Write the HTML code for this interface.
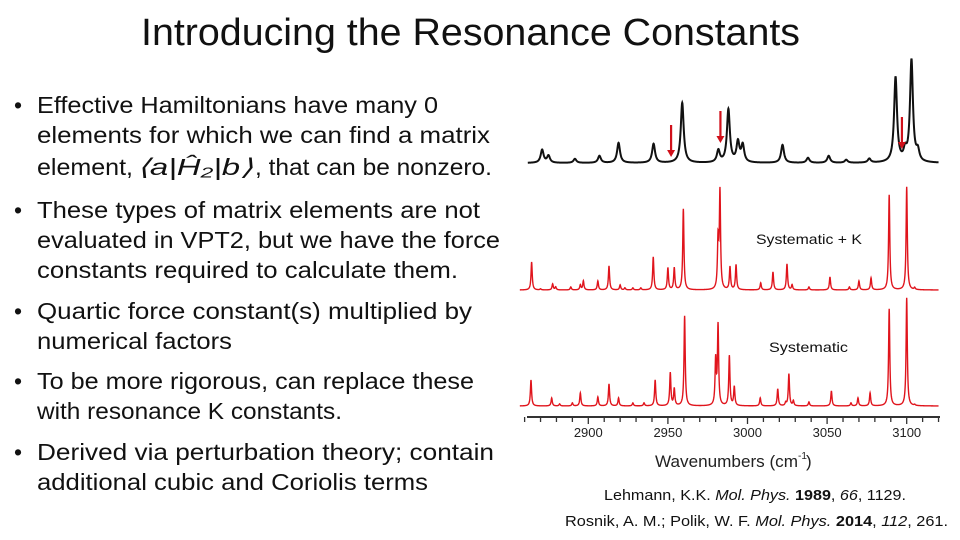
<!DOCTYPE html>
<html><head><meta charset="utf-8">
<style>
html,body{margin:0;padding:0;background:#fff;}
svg{display:block;}
text{font-family:"Liberation Sans",sans-serif;}
</style></head>
<body>
<svg id="s" width="960" height="540" viewBox="0 0 960 540">
<text x="141" y="45" font-size="38" fill="#111" textLength="659" lengthAdjust="spacingAndGlyphs">Introducing the Resonance Constants</text>
<g font-size="23" fill="#111">
<text x="14" y="113">•</text>
<text x="37" y="113" textLength="401" lengthAdjust="spacingAndGlyphs">Effective Hamiltonians have many 0</text>
<text x="37" y="143" textLength="453" lengthAdjust="spacingAndGlyphs">elements for which we can find a matrix</text>
<text x="37" y="175" textLength="96" lengthAdjust="spacingAndGlyphs">element,</text>
<text x="137" y="175" font-family="Liberation Serif" font-style="italic" textLength="116" lengthAdjust="spacingAndGlyphs">⟨a|Ĥ₂|b⟩</text>
<text x="255" y="175" textLength="237" lengthAdjust="spacingAndGlyphs">, that can be nonzero.</text>
<text x="14" y="218">•</text>
<text x="37" y="218" textLength="443" lengthAdjust="spacingAndGlyphs">These types of matrix elements are not</text>
<text x="37" y="248" textLength="463" lengthAdjust="spacingAndGlyphs">evaluated in VPT2, but we have the force</text>
<text x="37" y="278" textLength="421" lengthAdjust="spacingAndGlyphs">constants required to calculate them.</text>
<text x="14" y="319">•</text>
<text x="37" y="319" textLength="435" lengthAdjust="spacingAndGlyphs">Quartic force constant(s) multiplied by</text>
<text x="37" y="349" textLength="195" lengthAdjust="spacingAndGlyphs">numerical factors</text>
<text x="14" y="389">•</text>
<text x="37" y="389" textLength="437" lengthAdjust="spacingAndGlyphs">To be more rigorous, can replace these</text>
<text x="37" y="419" textLength="305" lengthAdjust="spacingAndGlyphs">with resonance K constants.</text>
<text x="14" y="460">•</text>
<text x="37" y="460" textLength="457" lengthAdjust="spacingAndGlyphs">Derived via perturbation theory; contain</text>
<text x="37" y="490" textLength="391" lengthAdjust="spacingAndGlyphs">additional cubic and Coriolis terms</text>
</g>
<g id="chart"></g>
<text x="756" y="244" font-size="14" fill="#111" textLength="106" lengthAdjust="spacingAndGlyphs">Systematic + K</text>
<text x="769" y="352" font-size="14" fill="#111" textLength="79" lengthAdjust="spacingAndGlyphs">Systematic</text>
<text x="655" y="467" font-size="17" fill="#222" textLength="143" lengthAdjust="spacingAndGlyphs">Wavenumbers (cm</text>
<text x="798" y="459" font-size="10" fill="#222">-1</text>
<text x="806" y="467" font-size="17" fill="#222">)</text>
<g font-size="15" fill="#111">
<text x="604" y="500" textLength="302" lengthAdjust="spacingAndGlyphs">Lehmann, K.K. <tspan font-style="italic">Mol. Phys.</tspan> <tspan font-weight="bold">1989</tspan>, <tspan font-style="italic">66</tspan>, 1129.</text>
<text x="565" y="526" textLength="383" lengthAdjust="spacingAndGlyphs">Rosnik, A. M.; Polik, W. F. <tspan font-style="italic">Mol. Phys.</tspan> <tspan font-weight="bold">2014</tspan>, <tspan font-style="italic">112</tspan>, 261.</text>
</g>
</svg>
<script>
const tickLabels=[2900,2950,3000,3050,3100];
const expPos=[2871,2875,2891.6,2907,2919,2941,2959,2981.7,2988,2994,2997,3022,3038,3051,3062,3076.5,3093,3099,3103,3107];
const expInt=[13,7,4,7,20,19,60,12,53,20,17,18,5,7,3,4,85,10,102,10];
const sysKPos=[2864.4,2870,2877.6,2879.5,2889,2895,2896.9,2906,2913,2920,2923,2928,2933,2940.8,2950,2954,2959.7,2981.5,2982.7,2989,2992.8,3008.3,3016,3024.8,3028,3038.6,3051.8,3064,3070,3077.6,3089,3100,3105];
const sysKInt=[28,1,6,3,3,5,9,9,24,5,2,2,2,33,22,22,81,48,97,23,25,7,18,26,5,3,13,3,9,12,95,103,2];
const sysPos=[2864,2877,2882,2890,2895,2906,2913,2919,2928,2935,2942,2951.5,2954,2960.5,2980,2981.5,2988.6,2991.7,3008,3019,3024,3026,3028.8,3038.6,3052.7,3065,3069.4,3077,3089,3100,3105];
const sysInt=[26,8,2,3,13,9,22,8,3,3,26,33,17,90,45,80,50,19,8,17,3,32,5,4,15,3,8,13,97,108,1];
const arrowPos=[2952,2983,3097];
const NS='http://www.w3.org/2000/svg';
const chart=document.getElementById('chart');
const x0=2900,px0=588.3,sc=1.592;
function xs(w){return px0+(w-x0)*sc;}
function spectrum(pos,ints,base,hw,wmin,wmax){
  let d='';
  for(let w=wmin;w<=wmax;w+=0.1){
    let y=0;
    for(let i=0;i<pos.length;i++){const u=(w-pos[i])/hw;y+=ints[i]/(1+u*u);}
    d+=(d?'L':'M')+xs(w).toFixed(2)+','+(base-y).toFixed(2);
  }
  return d;
}
function addPath(d,color,wid,name){
  const p=document.createElementNS(NS,'path');
  p.setAttribute('d',d);p.setAttribute('fill','none');p.setAttribute('stroke',color);p.setAttribute('stroke-width',wid);
  
  
  chart.appendChild(p);
}
addPath(spectrum(expPos,expInt,163,1.1,2862,3120),'#111','2','experimental-spectrum');
addPath(spectrum(sysKPos,sysKInt,290,0.45,2857,3120),'#e0141c','1.4','systematic-k-spectrum');
addPath(spectrum(sysPos,sysInt,406,0.45,2857,3120),'#e0141c','1.4','systematic-spectrum');
// axis
const ax=document.createElementNS(NS,'line');
ax.setAttribute('x1',527);ax.setAttribute('x2',940);ax.setAttribute('y1',417);ax.setAttribute('y2',417);
ax.setAttribute('stroke','#333');ax.setAttribute('stroke-width','2');


chart.appendChild(ax);
for(let w=2860;w<=3120;w+=10){
  const t=document.createElementNS(NS,'line');
  const major=(w%50===0);
  t.setAttribute('x1',xs(w));t.setAttribute('x2',xs(w));t.setAttribute('y1',417);t.setAttribute('y2',major?424:422);
  t.setAttribute('stroke','#333');t.setAttribute('stroke-width','1.3');
  
  
  chart.appendChild(t);
}
tickLabels.forEach(v=>{
  const t=document.createElementNS(NS,'text');
  t.setAttribute('x',xs(v));t.setAttribute('y',437);t.setAttribute('font-size','13');t.setAttribute('text-anchor','middle');t.setAttribute('fill','#222');
  t.textContent=v;
  
  
  chart.appendChild(t);
});
const arrowTop=[125,111,117];
arrowPos.forEach((w,i)=>{
  const x=xs(w),y1=arrowTop[i],y2=y1+32;
  const g=document.createElementNS(NS,'g');
  
  
  const l=document.createElementNS(NS,'line');
  l.setAttribute('x1',x);l.setAttribute('x2',x);l.setAttribute('y1',y1);l.setAttribute('y2',y2-6);
  l.setAttribute('stroke','#d0101a');l.setAttribute('stroke-width','2.2');
  const h=document.createElementNS(NS,'polygon');
  h.setAttribute('points',`${x-4},${y2-7} ${x+4},${y2-7} ${x},${y2}`);h.setAttribute('fill','#d0101a');
  g.appendChild(l);g.appendChild(h);chart.appendChild(g);
});
</script>
</body></html>
